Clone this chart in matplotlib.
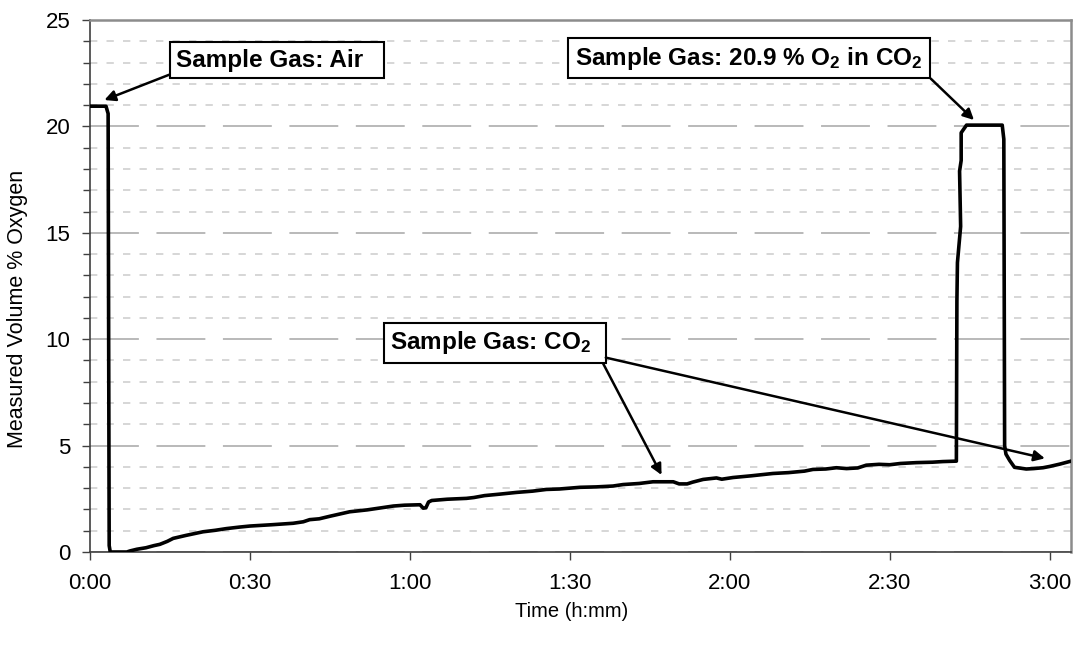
import matplotlib
matplotlib.use("Agg")
import matplotlib.pyplot as plt
from matplotlib.ticker import MultipleLocator, FuncFormatter

plt.rcParams['font.family'] = ['Liberation Sans', 'DejaVu Sans']
plt.rcParams['mathtext.fontset'] = 'custom'
plt.rcParams['mathtext.rm'] = 'Liberation Sans'
plt.rcParams['mathtext.bf'] = 'Liberation Sans:bold'
plt.rcParams['mathtext.default'] = 'bf'

# ---- data (time in minutes, measured volume % oxygen) ----
time_min = [0.0, 3.0, 3.4, 3.5, 3.6, 3.8, 6.9, 7.5, 8.8, 10.5, 12.0, 13.1, 14.5,
            15.6, 18.0, 21.2, 23.5, 25.6, 28.0, 30.0, 34.0, 38.1, 40.0, 41.2,
            43.0, 45.0, 48.7, 52.0, 56.9, 59.0, 61.9, 62.5, 63.0, 63.5, 64.1,
            67.0, 70.6, 72.0, 74.0, 76.9, 80.0, 83.0, 85.6, 88.0, 91.9, 95.0,
            98.1, 100.0, 103.0, 105.6, 109.4, 110.5, 112.0, 113.0, 115.0,
            117.5, 118.5, 120.6, 124.0, 128.1, 131.0, 134.0, 135.6, 138.0,
            140.0, 141.9, 144.0, 145.6, 148.0, 150.0, 152.0, 155.0, 158.0,
            160.0, 162.5, 162.6, 162.7, 163.3, 163.1, 163.4, 163.4, 164.4,
            171.1, 171.4, 171.55, 171.8, 172.5, 173.4, 175.6, 177.0, 178.75,
            180.0, 181.9, 184.0]
o2_pct = [20.95, 20.95, 20.6, 10.0, 0.3, 0.0, 0.0, 0.05, 0.13, 0.2, 0.3, 0.36,
          0.5, 0.64, 0.78, 0.95, 1.02, 1.10, 1.17, 1.22, 1.28, 1.35, 1.42,
          1.52, 1.56, 1.68, 1.89, 1.98, 2.16, 2.20, 2.22, 2.06, 2.08, 2.35,
          2.42, 2.48, 2.52, 2.56, 2.65, 2.72, 2.80, 2.86, 2.94, 2.96, 3.04,
          3.06, 3.10, 3.17, 3.22, 3.30, 3.30, 3.20, 3.20, 3.28, 3.41, 3.48,
          3.42, 3.50, 3.58, 3.69, 3.73, 3.80, 3.88, 3.90, 3.96, 3.92, 3.95,
          4.08, 4.12, 4.10, 4.16, 4.20, 4.22, 4.25, 4.27, 11.8, 13.6, 15.3,
          17.9, 18.4, 19.7, 20.06, 20.06, 19.4, 5.0, 4.6, 4.3, 3.98, 3.90,
          3.92, 3.96, 4.02, 4.13, 4.27]

x_ticks = [0, 30, 60, 90, 120, 150, 180]
y_ticks = [0, 5, 10, 15, 20, 25]
x_label = "Time (h:mm)"
y_label = "Measured Volume % Oxygen"

# annotations: (text, text left/centre-y anchor (min, %), arrow tips, relpos of arrow start)
ann_air = ("Sample Gas: Air  ", (16.2, 23.10), [(2.7, 21.24)], (0, 0))
ann_mix = ("Sample Gas: 20.9 % O$_2$ in CO$_2$ ", (90.9, 23.21), [(165.8, 20.3)], (1, 0))
ann_co2 = ("Sample Gas: CO$_2$  ", (56.3, 9.84), [(107.2, 3.62), (179.1, 4.40)], (1, 0))

fig = plt.figure(figsize=(10.82, 6.46), dpi=100)
ax = fig.add_axes([90 / 1082, 1 - 552 / 646, 981 / 1082, 532 / 646])

ax.plot(time_min, o2_pct, color='black', lw=2.6, solid_joinstyle='round', zorder=5)

ax.set_xlim(0, 184)
ax.set_ylim(0, 25)
ax.set_xticks(x_ticks)
ax.xaxis.set_major_formatter(FuncFormatter(lambda v, p: f"{int(v)//60}:{int(v)%60:02d}"))
ax.set_yticks(y_ticks)
ax.yaxis.set_minor_locator(MultipleLocator(1))

ax.yaxis.grid(True, which='major', color='#a6a6a6', lw=1.1, dashes=(32, 11.5))
ax.yaxis.grid(True, which='minor', color='#cccccc', lw=1.1, dashes=(4.8, 6.0))
ax.set_axisbelow(True)

ax.tick_params(axis='both', which='major', direction='out', length=6, width=1,
               color='#404040', labelsize=16, labelcolor='black')
ax.tick_params(axis='y', which='major', pad=8)
ax.tick_params(axis='x', which='major', pad=9)
ax.tick_params(axis='y', which='minor', direction='out', length=5, width=1, color='#404040')

for s in ['left', 'bottom']:
    ax.spines[s].set_color('#404040')
    ax.spines[s].set_linewidth(1.2)
for s in ['top', 'right']:
    ax.spines[s].set_color('#8c8c8c')
    ax.spines[s].set_linewidth(1.8)

ax.set_xlabel(x_label, fontsize=14.5)
ax.set_ylabel(y_label, fontsize=15.5)
ax.xaxis.set_label_coords(0.491, -0.094)
ax.yaxis.set_label_coords(-0.063, 0.457)

for text, anchor, tips, rp in [ann_air, ann_mix, ann_co2]:
    for i, tip in enumerate(tips):
        ax.annotate(text, xy=tip, xytext=anchor, textcoords='data',
                    ha='left', va='center', fontsize=17.5, fontweight='bold',
                    color='black' if i == 0 else 'none',
                    bbox=dict(boxstyle='square,pad=0.27', fc='white' if i == 0 else 'none',
                              ec='black' if i == 0 else 'none', lw=1.5),
                    arrowprops=dict(arrowstyle='-|>', color='black', lw=1.8,
                                    mutation_scale=16, shrinkA=0, shrinkB=0, relpos=rp),
                    zorder=6)

fig.savefig('out.png', dpi=100)
